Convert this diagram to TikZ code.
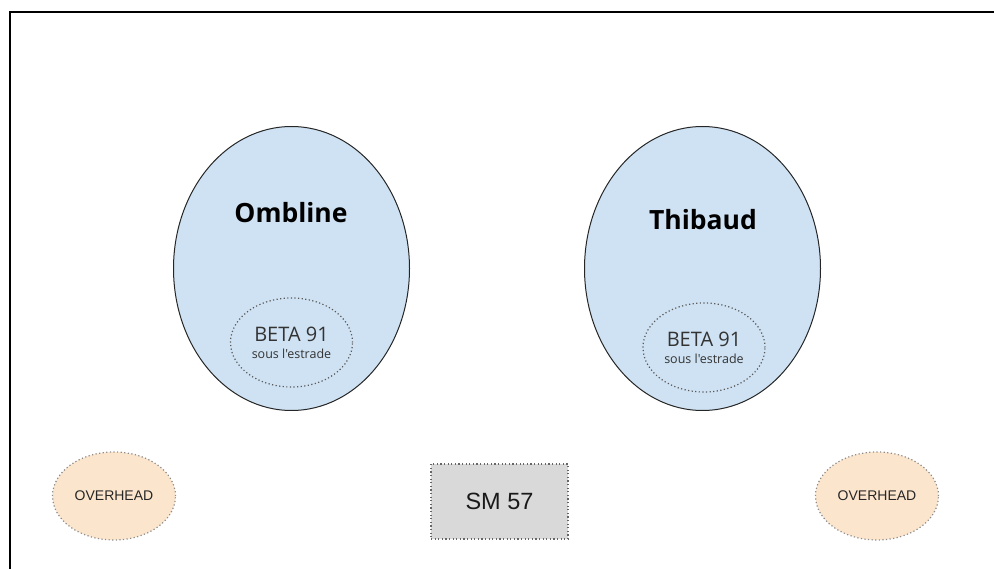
\documentclass[tikz,border=0pt]{standalone}
\usepackage{fontspec}
\setmainfont{Liberation Sans}
\newfontfamily\opensans{Open Sans}
\usetikzlibrary{shapes}
\usetikzlibrary{positioning}
\definecolor{singerblue}{HTML}{CFE2F3}
\definecolor{ohpeach}{HTML}{FCE5CD}
\definecolor{boxgray}{HTML}{D9D9D9}
\tikzstyle{singer}=[ellipse, draw=black!85, fill=singerblue, line width=1pt, minimum width=236pt, minimum height=284pt, inner sep=0pt]
\tikzstyle{singername}=[font=\opensans\bfseries\fontsize{26.5}{30}\selectfont]
\tikzstyle{micbeta}=[ellipse, draw=black!65, line width=1.2pt, dash pattern=on 1.2pt off 2.4pt, minimum width=122pt, minimum height=89pt, inner sep=0pt, align=center, text=black!80, font=\opensans\fontsize{20}{22}\selectfont]
\tikzstyle{ohmic}=[ellipse, draw=black!45, fill=ohpeach, line width=1.2pt, dash pattern=on 1.2pt off 2.4pt, minimum width=123pt, minimum height=88pt, inner sep=0pt, text=black!85, font=\fontsize{14}{16}\selectfont]
\tikzstyle{micsm}=[rectangle, draw=black!60, fill=boxgray, line width=1.2pt, dash pattern=on 1.2pt off 2.4pt, minimum width=137pt, minimum height=75pt, inner sep=0pt, text=black!90, font=\fontsize{23.5}{26}\selectfont]
\newcommand{\sous}{\\[-5pt]{\fontsize{12.5}{14}\selectfont sous l'estrade}}
\begin{document}
\begin{tikzpicture}
[x=1pt, y=1pt, node distance = 411pt]
\useasboundingbox (0,0) rectangle (994,-569);
\draw[line width=2pt] (10,-569) -- (10,-12) -- (994,-12);
\node[singer] (s1) at (291.5,-268.5) {};
\node[singer] [right of =s1] (s2) {};
\node[singername] (n1) at (291,-213) {Ombline};
\node[singername] (n2) at (703,-220) {Thibaud};
\node[micbeta] (b1) at (291.5,-342.5) {BETA 91\sous};
\node[micbeta] (b2) at (704,-347.5) {BETA 91\sous};
\node[ohmic] (o1) at (114,-496) {OVERHEAD};
\node[ohmic] (o2) at (877,-496) {OVERHEAD};
\node[micsm] (sm) at (499.5,-501.5) {SM 57};
\end{tikzpicture}
\end{document}
